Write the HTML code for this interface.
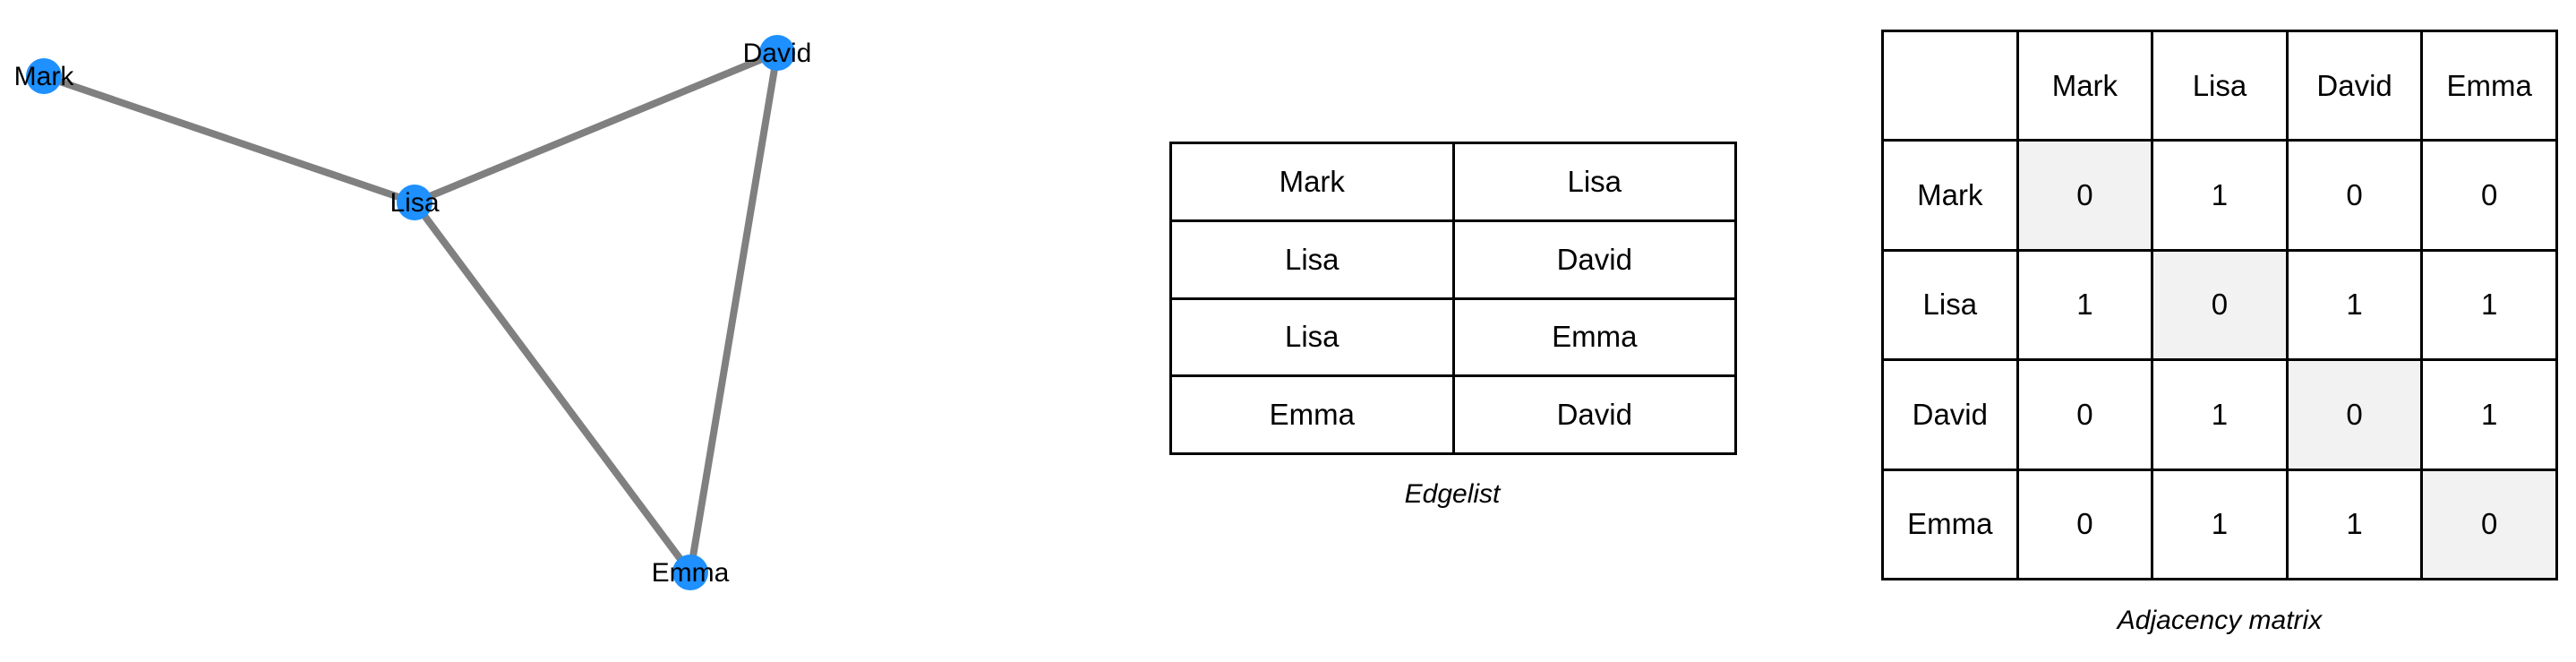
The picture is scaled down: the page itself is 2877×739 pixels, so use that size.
<!DOCTYPE html>
<html><head><meta charset="utf-8"><style>
body{margin:0;width:2877px;height:739px;background:#fff;overflow:hidden;position:relative;font-family:"Liberation Sans",sans-serif}
svg{position:absolute;left:0;top:0}
table{position:absolute;border-collapse:collapse;font-size:33px;color:#000}
td{border:3px solid #000;text-align:center;padding:0}
.cap{position:absolute;font-style:italic;font-size:30px;transform:translateX(-50%);white-space:nowrap}
.g{background:#f2f2f2}
</style></head><body>
<svg width="1000" height="739">
<g stroke="#808080" stroke-width="8">
<line x1="49" y1="85" x2="463" y2="226"/>
<line x1="463" y1="226" x2="868" y2="59"/>
<line x1="463" y1="226" x2="771" y2="639"/>
<line x1="868" y1="59" x2="771" y2="639"/>
</g>
<g fill="#1e90ff">
<circle cx="49" cy="85" r="20"/><circle cx="463" cy="226" r="20"/>
<circle cx="868" cy="59" r="20"/><circle cx="771" cy="639" r="20"/>
</g>
<g font-family="Liberation Sans, sans-serif" font-size="30" text-anchor="middle" fill="#000">
<text x="49" y="95">Mark</text><text x="463" y="236">Lisa</text>
<text x="868" y="69">David</text><text x="771" y="649">Emma</text>
</g>
</svg>
<table style="left:1306px;top:158px;width:634px;height:350px">
<tr><td style="width:50%">Mark</td><td>Lisa</td></tr>
<tr><td>Lisa</td><td>David</td></tr>
<tr><td>Lisa</td><td>Emma</td></tr>
<tr><td>Emma</td><td>David</td></tr>
</table>
<div class="cap" style="left:1622px;top:535px">Edgelist</div>
<table style="left:2101px;top:33px;width:756px;height:615px">
<tr><td style="width:20%"></td><td style="width:20%">Mark</td><td style="width:20%">Lisa</td><td style="width:20%">David</td><td>Emma</td></tr>
<tr><td>Mark</td><td class="g">0</td><td>1</td><td>0</td><td>0</td></tr>
<tr><td>Lisa</td><td>1</td><td class="g">0</td><td>1</td><td>1</td></tr>
<tr><td>David</td><td>0</td><td>1</td><td class="g">0</td><td>1</td></tr>
<tr><td>Emma</td><td>0</td><td>1</td><td>1</td><td class="g">0</td></tr>
</table>
<div class="cap" style="left:2479px;top:676px">Adjacency matrix</div>
</body></html>
